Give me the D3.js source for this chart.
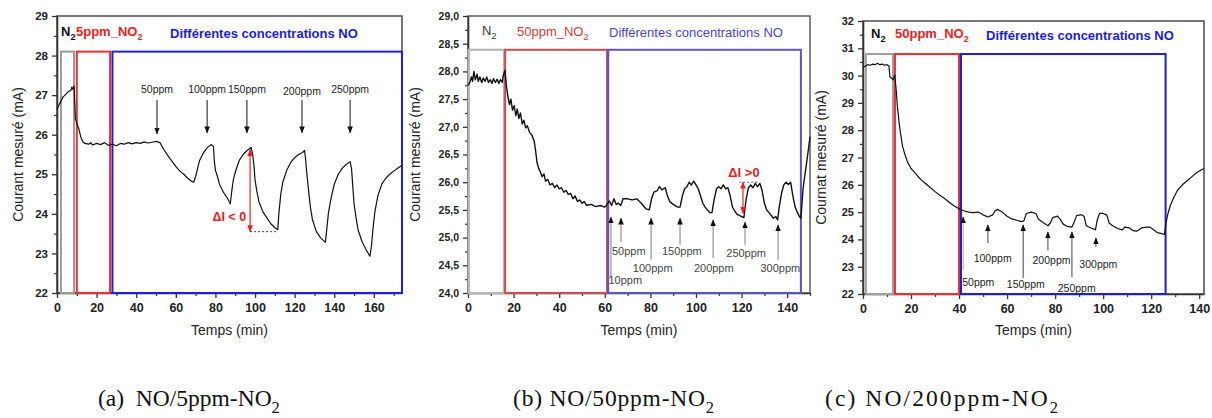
<!DOCTYPE html>
<html><head><meta charset="utf-8">
<script src="https://cdn.jsdelivr.net/npm/d3@7"></script>
<style>
body{margin:0;background:#fff;}
svg{display:block;font-family:Arial,"Liberation Sans",sans-serif;}
</style></head><body>
<svg id="chart" width="1212" height="418"></svg>
<script>
// ---------- Panel (a): NO / 5ppm-NO2 ----------
const timeA = [0,1,2,3,4,5,6,7,7.5,8,8.6,9.3,10,11,12,13,14,16,17,18,20,22,24,26,28,30,32,34,36,38,40,42,44,46,48,50,52,54,56,58,60,62,64,66,68,69,70,71,72,74,76,78,79,79.5,80,81,82,84,86,87.5,88.3,89,90,92,94,96,98,98.8,99.5,100,101,102,104,106,108,110,111.5,112,113,114,116,118,120,122,124,125,125.5,126,127,128,129,131,133,135.5,136.2,137,138,140,142,144,146,148,148.7,149.5,150,151,152,154,156,158,158.8,159.5,160.5,162,164,166,168,170,172,174];
const currentA = [26.65,26.75,26.85,26.95,27.0,27.05,27.1,27.12,27.2,27.15,27.23,26.4,26.3,26.15,25.95,25.82,25.78,25.76,25.8,25.74,25.78,25.75,25.8,25.73,25.76,25.72,25.78,25.76,25.8,25.77,25.8,25.78,25.82,25.79,25.81,25.83,25.8,25.62,25.47,25.33,25.2,25.08,25.0,24.9,24.82,24.8,24.95,25.15,25.35,25.55,25.68,25.75,25.7,25.3,25.1,24.95,24.75,24.55,24.4,24.25,24.6,24.85,25.05,25.35,25.5,25.6,25.68,25.5,25.2,24.85,24.55,24.3,24.05,23.9,23.75,23.65,23.6,24.0,24.5,24.8,25.1,25.3,25.42,25.5,25.55,25.6,25.4,25.1,24.6,24.15,23.85,23.55,23.4,23.28,23.6,24.0,24.3,24.75,25.0,25.15,25.25,25.32,25.15,24.6,24.25,23.9,23.6,23.3,23.1,22.93,23.2,23.6,24.05,24.45,24.75,24.9,25.0,25.08,25.15,25.22];
const boxStartA = [2, 10, 28];
const boxEndA = [8.6, 26.8, 174.2];
const boxTopA = 28.1;
const arrowLabelsA = ["50ppm","100ppm","150ppm","200ppm","250ppm"];
const arrowTimesA = [50.5, 75.8, 95.9, 123.7, 148];
const arrowFromA = [26.88, 26.88, 26.88, 26.88, 26.88];
const arrowToA = [26.02, 26.05, 26.05, 26.05, 26.05];
const labelValA = [27.06, 27.06, 27.06, 27.01, 27.06];
const deltaA = {t:97.5, top:25.62, bottom:23.55, tEnd:111.5};
const yTicksA = [22,23,24,25,26,27,28,29];
const xTicksA = [0,20,40,60,80,100,120,140,160];

// ---------- Panel (b): NO / 50ppm-NO2 ----------
const timeB = [0,0.8,1.5,2,2.6,3.2,4,4.5,5.2,6,6.7,7.5,8.2,9,9.8,10.5,11.2,12,12.8,13.5,14.2,15,15.6,16.2,16.8,17.5,18.2,18.8,19.5,20.2,21,21.6,22.3,23,23.8,24.5,25.3,26,27,28,29,29.7,30.3,31,31.8,32.5,33.3,34,35,36,37,38,39,40,41,42,43,44,45,46,47,48,49,50,51,52,54,56,58,60,61,62,63,64,65,66,67,68,70,72,74,76,78,79.5,80.5,81.5,83,84,85,86.5,87.5,88.5,90,92,93,94,95,96,97,98,99,100,101,102,103,104,105,106,107,108,109,110,111,112,113,114,115,116,117,118,119,120,121,122,123,124,125,126,127,128,129,130,131,132,133,134,135,135.8,136.5,137.5,138.5,139.5,140.5,141.5,142.5,143.5,144.5,145.5,146,147,148,149,150];
const currentB = [27.75,27.8,27.9,27.82,28.0,27.85,27.95,27.82,27.9,27.8,27.88,27.82,27.9,27.8,27.85,27.78,27.87,27.8,27.86,27.78,27.85,27.8,27.95,28.02,27.75,27.55,27.4,27.5,27.3,27.38,27.2,27.32,27.15,27.25,27.05,27.12,26.98,27.02,26.9,26.85,26.75,26.55,26.35,26.25,26.18,26.1,26.15,26.02,26.05,25.95,25.98,25.9,25.95,25.88,25.9,25.82,25.85,25.78,25.8,25.7,25.75,25.65,25.68,25.62,25.65,25.58,25.6,25.56,25.58,25.55,25.6,25.66,25.58,25.7,25.6,25.62,25.58,25.7,25.7,25.68,25.7,25.62,25.52,25.5,25.7,25.82,25.85,25.92,25.86,25.9,25.75,25.65,25.6,25.55,25.55,25.75,25.88,25.92,26.0,25.95,26.02,25.95,25.88,25.75,25.62,25.55,25.5,25.45,25.45,25.7,25.88,25.92,25.88,25.95,25.88,25.9,25.75,25.55,25.48,25.42,25.4,25.38,25.36,25.7,25.9,25.95,25.9,25.98,25.92,25.98,25.85,25.62,25.5,25.45,25.4,25.35,25.38,25.32,25.55,25.8,25.95,26.0,25.96,26.0,25.75,25.55,25.45,25.37,25.35,25.9,26.2,26.5,26.82];
const boxStartB = [0.3, 16.3, 61.5];
const boxEndB = [15.8, 61, 146];
const boxTopB = 28.39;
const arrowLabelsB = ["10ppm","50ppm","100ppm","150ppm","200ppm","250ppm","300ppm"];
const arrowTimesB = [62.7, 67.1, 80.3, 93, 107.5, 121.5, 136];
const arrowTipB = [25.37, 25.35, 25.35, 25.35, 25.32, 25.28, 25.23];
const arrowBaseB = [24.29, 24.92, 24.6, 24.87, 24.63, 24.87, 24.6];
const labelTimeB = [69, 70.5, 81, 93.8, 107.8, 122, 137];
const labelValB = [24.16, 24.69, 24.38, 24.69, 24.38, 24.65, 24.38];
const deltaB = {t:120.6, top:26.0, bottom:25.44, t0:119, t1:127.5};
const yTicksB = [24,24.5,25,25.5,26,26.5,27,27.5,28,28.5,29];
const xTicksB = [0,20,40,60,80,100,120,140];

// ---------- Panel (c): NO / 200ppm-NO2 ----------
const timeC = [0,1,2,3,4,5,6,7,8,9,10,10.8,11.2,12,12.6,13.2,13.8,14.3,15,15.6,16.5,17.5,18.5,20,22,24,26,28,30,32,34,36,38,40,42,44,46,48,50,52,54,55,56,57,58,60,62,64,66,67,68,70,72,73,75,77,78,79,81,82,83.5,85,87,88,89,91,92,93,95,96.8,97.5,98.5,100,101.5,102.5,104,106,108,109,111,112.5,114,116,118,119.5,121,122.5,124,125.5,126.2,127,128,129.5,131,133,135,137,139,141,142];
const currentC = [30.3,30.35,30.4,30.38,30.42,30.4,30.45,30.4,30.42,30.38,30.4,30.35,29.95,29.9,29.85,30.02,29.5,28.9,28.3,27.9,27.4,27.1,26.85,26.6,26.4,26.2,26.05,25.9,25.75,25.62,25.5,25.35,25.22,25.12,25.05,25.0,24.98,25.0,24.9,24.82,24.9,25.05,25.1,25.05,25.0,24.85,24.75,24.7,24.65,24.68,24.95,25.0,24.95,24.75,24.62,24.5,24.6,24.8,24.85,24.75,24.55,24.48,24.45,24.65,24.88,24.9,24.85,24.5,24.42,24.35,24.7,24.95,24.95,24.9,24.6,24.5,24.4,24.35,24.45,24.42,24.32,24.3,24.42,24.45,24.45,24.35,24.25,24.22,24.18,24.6,24.95,25.25,25.55,25.8,26.0,26.15,26.3,26.45,26.55,26.6];
const boxStartC = [1.2, 13.3, 40.8];
const boxEndC = [12.5, 40, 126];
const boxTopC = 30.79;
const arrowLabelsC = ["50ppm","100ppm","150ppm","200ppm","250ppm","300ppm"];
const arrowTimesC = [41.7, 52, 66.7, 77, 87, 97];
const arrowTipC = [24.82, 24.53, 24.53, 24.27, 24.27, 24.05];
const arrowBaseC = [22.88, 23.87, 22.59, 23.6, 22.62, 23.72];
const labelTimeC = [48, 54, 67.8, 78.5, 89, 98];
const labelValC = [22.29, 23.17, 22.22, 23.1, 22.07, 22.95];
const yTicksC = [22,23,24,25,26,27,28,29,30,31,32];
const xTicksC = [0,20,40,60,80,100,120,140];

// ---------- drawing ----------
const svg = d3.select("#chart");
const defs = svg.append("defs");
function marker(id, color){
  defs.append("marker").attr("id",id).attr("viewBox","0 0 10 10").attr("refX",9).attr("refY",5)
    .attr("markerWidth",7).attr("markerHeight",7).attr("orient","auto-start-reverse").attr("markerUnits","userSpaceOnUse")
    .append("path").attr("d","M0,1 L10,5 L0,9 Z").attr("fill",color);
}
marker("arrK","#111");
marker("arrR","#e52222");

function addSubText(g, x, y, main, sub, opts){
  const t = g.append("text").attr("x",x).attr("y",y)
    .attr("font-size",opts.size).attr("font-weight",opts.weight||"normal").attr("fill",opts.color)
    .attr("font-family",opts.family||null).attr("letter-spacing",opts.spacing||null);
  t.append("tspan").text(main);
  t.append("tspan").attr("dy",opts.size*0.3).attr("font-size",opts.size*0.7).text(sub);
  return t;
}

function panel(o){
  const x = d3.scaleLinear().domain(o.xDomain).range([o.left,o.right]);
  const y = d3.scaleLinear().domain(o.yDomain).range([o.bottom,o.top]);
  const g = svg.append("g");
  const y0 = o.yDomain[0];
  g.append("rect").attr("x",o.left).attr("y",o.top).attr("width",o.right-o.left).attr("height",o.bottom-o.top)
    .attr("fill","none").attr("stroke",o.frameColor).attr("stroke-width",1.6);
  const xMinor = d3.axisBottom(x).tickValues(o.xMinor).tickSize(3).tickFormat("");
  g.append("g").attr("transform",`translate(0,${o.bottom})`).call(xMinor)
    .call(s=>s.select(".domain").remove()).selectAll("line").attr("stroke","#333").attr("stroke-width",1.2);
  const yMinor = d3.axisLeft(y).tickValues(o.yMinor).tickSize(3).tickFormat("");
  g.append("g").attr("transform",`translate(${o.left},0)`).call(yMinor)
    .call(s=>s.select(".domain").remove()).selectAll("line").attr("stroke","#333").attr("stroke-width",1.2);
  const xa = g.append("g").attr("transform",`translate(0,${o.bottom})`)
    .call(d3.axisBottom(x).tickValues(o.xTicks).tickSize(5).tickPadding(5).tickSizeOuter(0));
  xa.selectAll("text").attr("font-size",12.5).attr("font-weight","bold").attr("fill","#222").attr("font-family","Arial, Liberation Sans");
  xa.selectAll("line").attr("stroke","#333").attr("stroke-width",1.3);
  xa.select(".domain").attr("stroke","#333").attr("stroke-width",1.6);
  const ya = g.append("g").attr("transform",`translate(${o.left},0)`)
    .call(d3.axisLeft(y).tickValues(o.yTicks).tickSize(5).tickPadding(4).tickSizeOuter(0).tickFormat(o.yFormat));
  ya.selectAll("text").attr("font-size",o.yFont).attr("font-weight","bold").attr("fill","#222").attr("font-family","Arial, Liberation Sans");
  ya.selectAll("line").attr("stroke","#333").attr("stroke-width",1.3);
  ya.select(".domain").attr("stroke","#333").attr("stroke-width",1.6);
  o.boxStart.forEach((b,i)=>{
    g.append("rect").attr("x",x(b)).attr("y",y(o.boxTop))
      .attr("width",x(o.boxEnd[i])-x(b)).attr("height",y(y0)-y(o.boxTop))
      .attr("fill","none").attr("stroke",o.boxColors[i]).attr("stroke-width",o.boxWidths[i]);
  });
  const line = d3.line().x((d,i)=>x(o.time[i])).y((d)=>y(d));
  g.append("path").datum(o.current).attr("d",line).attr("fill","none").attr("stroke","#111").attr("stroke-width",o.lineWidth).attr("stroke-linejoin","round");
  g.append("text").attr("x",(o.left+o.right)/2).attr("y",335).attr("text-anchor","middle")
    .attr("font-size",14).attr("fill","#222").text("Temps (min)");
  g.append("text").attr("transform",`translate(${o.yTitleX},${(o.top+o.bottom)/2}) rotate(-90)`)
    .attr("text-anchor","middle").attr("font-size",14).attr("fill","#222").text(o.yTitle);
  return {g,x,y};
}

// Panel A
(function(){
  const p = panel({left:57,right:402,top:16,bottom:293,xDomain:[0,174.2],yDomain:[22,29],
    xTicks:xTicksA, xMinor:[10,30,50,70,90,110,130,150,170], yTicks:yTicksA, yMinor:[22.5,23.5,24.5,25.5,26.5,27.5,28.5],
    yFormat:d3.format("d"), yFont:11.5, frameColor:"#555", lineWidth:1.2,
    boxStart:boxStartA, boxEnd:boxEndA, boxTop:boxTopA, boxColors:["#9a9a9a","#e83030","#1f1fd6"], boxWidths:[2,2,2],
    time:timeA, current:currentA, yTitle:"Courant mesuré (mA)", yTitleX:23});
  const {g,x,y} = p;
  addSubText(g,61,36,"N","2",{size:13,weight:"bold",color:"#111"});
  addSubText(g,76,36,"5ppm_NO","2",{size:13,weight:"bold",color:"#e82222"});
  g.append("text").attr("x",170).attr("y",38).attr("font-size",13).attr("font-weight","bold").attr("fill","#1c1cd8").text("Différentes concentrations NO");
  arrowLabelsA.forEach((l,i)=>{
    g.append("line").attr("x1",x(arrowTimesA[i])).attr("x2",x(arrowTimesA[i])).attr("y1",y(arrowFromA[i])).attr("y2",y(arrowToA[i]))
      .attr("stroke","#111").attr("stroke-width",1).attr("marker-end","url(#arrK)");
    g.append("text").attr("x",x(arrowTimesA[i])).attr("y",y(labelValA[i])).attr("text-anchor","middle").attr("font-size",10.5).attr("fill","#222").text(l);
  });
  g.append("line").attr("x1",x(deltaA.t)).attr("x2",x(deltaA.t)).attr("y1",y(deltaA.top)).attr("y2",y(deltaA.bottom))
    .attr("stroke","#e52222").attr("stroke-width",1.2).attr("marker-start","url(#arrR)").attr("marker-end","url(#arrR)");
  g.append("line").attr("x1",x(deltaA.t)).attr("x2",x(deltaA.tEnd)).attr("y1",y(deltaA.bottom)).attr("y2",y(deltaA.bottom))
    .attr("stroke","#222").attr("stroke-width",0.9).attr("stroke-dasharray","2,2");
  g.append("text").attr("x",x(deltaA.t)-4).attr("y",221).attr("text-anchor","end").attr("font-size",12.5).attr("font-weight","bold").attr("fill","#e52222").text("ΔI < 0");
})();

// Panel B
(function(){
  const p = panel({left:468,right:810,top:16,bottom:293,xDomain:[0,150],yDomain:[24,29],
    xTicks:xTicksB, xMinor:[10,30,50,70,90,110,130,150], yTicks:yTicksB, yMinor:d3.range(24.25,29,0.5),
    yFormat:d=>d3.format(".1f")(d).replace(".",","), yFont:10.5, frameColor:"#666", lineWidth:1.4,
    boxStart:boxStartB, boxEnd:boxEndB, boxTop:boxTopB, boxColors:["#b8b8b8","#c94c52","#5a55c4"], boxWidths:[2.2,2,2],
    time:timeB, current:currentB, yTitle:"Courant mesuré (mA)", yTitleX:420});
  const {g,x,y} = p;
  addSubText(g,482,35,"N","2",{size:13,color:"#333"});
  addSubText(g,517,36,"50ppm_NO","2",{size:13,color:"#cc3b40"});
  g.append("text").attr("x",609).attr("y",37).attr("font-size",13).attr("fill","#4a44c6").text("Différentes concentrations NO");
  arrowLabelsB.forEach((l,i)=>{
    g.append("line").attr("x1",x(arrowTimesB[i])).attr("x2",x(arrowTimesB[i])).attr("y1",y(arrowBaseB[i])).attr("y2",y(arrowTipB[i]))
      .attr("stroke","#888").attr("stroke-width",1.1).attr("marker-end","url(#arrK)");
    g.append("text").attr("x",x(labelTimeB[i])).attr("y",y(labelValB[i])).attr("text-anchor","middle").attr("font-size",11).attr("fill","#444").text(l);
  });
  g.append("line").attr("x1",x(deltaB.t)).attr("x2",x(deltaB.t)).attr("y1",y(deltaB.top)).attr("y2",y(deltaB.bottom))
    .attr("stroke","#e52222").attr("stroke-width",1.2).attr("marker-start","url(#arrR)").attr("marker-end","url(#arrR)");
  g.append("line").attr("x1",x(deltaB.t0)).attr("x2",x(deltaB.t1)).attr("y1",y(deltaB.top)).attr("y2",y(deltaB.top))
    .attr("stroke","#555").attr("stroke-width",0.9).attr("stroke-dasharray","2,2");
  g.append("text").attr("x",x(deltaB.t)+1).attr("y",177).attr("text-anchor","middle").attr("font-size",13).attr("font-weight","bold").attr("fill","#e52222").text("ΔI >0");
})();

// Panel C
(function(){
  const p = panel({left:863,right:1204,top:21,bottom:294,xDomain:[0,142],yDomain:[22,32],
    xTicks:xTicksC, xMinor:[10,30,50,70,90,110,130], yTicks:yTicksC, yMinor:d3.range(22.5,32,1),
    yFormat:d3.format("d"), yFont:11, frameColor:"#555", lineWidth:1.2,
    boxStart:boxStartC, boxEnd:boxEndC, boxTop:boxTopC, boxColors:["#a0a0a0","#e83030","#1f1fd6"], boxWidths:[2,2,2],
    time:timeC, current:currentC, yTitle:"Cournat mesuré (mA)", yTitleX:826});
  const {g,x,y} = p;
  addSubText(g,871,38,"N","2",{size:13,weight:"bold",color:"#111"});
  addSubText(g,895,38,"50ppm_NO","2",{size:13,weight:"bold",color:"#e82222"});
  g.append("text").attr("x",986).attr("y",40).attr("font-size",13).attr("font-weight","bold").attr("fill","#1c1cd8").text("Différentes concentrations NO");
  arrowLabelsC.forEach((l,i)=>{
    g.append("line").attr("x1",x(arrowTimesC[i])).attr("x2",x(arrowTimesC[i])).attr("y1",y(arrowBaseC[i])).attr("y2",y(arrowTipC[i]))
      .attr("stroke",i===0?"#aaa":"#444").attr("stroke-width",1).attr("marker-end","url(#arrK)");
    g.append("text").attr("x",x(labelTimeC[i])).attr("y",y(labelValC[i])).attr("text-anchor","middle").attr("font-size",10.5).attr("fill","#222").text(l);
  });
})();

// Captions
const capFont = "'Liberation Serif','Times New Roman',serif";
addSubText(svg,98,406,"(a)\u00a0\u00a0NO/5ppm-NO","2",{size:23.5,color:"#111",family:capFont});
addSubText(svg,513,406,"(b) NO/50ppm-NO","2",{size:23.5,color:"#111",family:capFont,spacing:0.8});
addSubText(svg,825,406,"(c) NO/200ppm-NO","2",{size:23.5,color:"#111",family:capFont,spacing:2.1});
</script>
</body></html>
